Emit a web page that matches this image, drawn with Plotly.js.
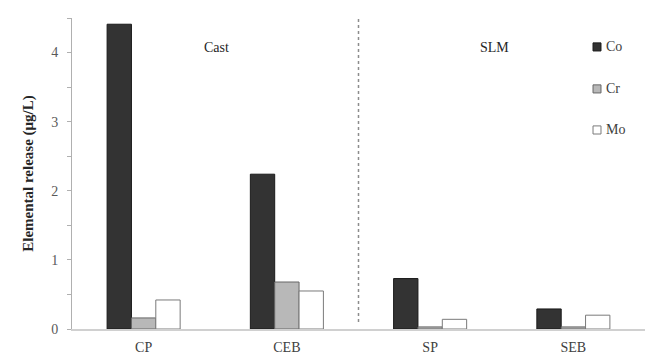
<!DOCTYPE html>
<html><head><meta charset="utf-8">
<script src="https://cdn.plot.ly/plotly-3.0.1.min.js"></script>
<style>html,body{margin:0;padding:0;background:#fff;}#chart{width:650px;height:356px;}</style>
</head><body><div id="chart"></div>
<script>
const categories = ["CP", "CEB", "SP", "SEB"];
const coValues = [4.41, 2.24, 0.73, 0.29];
const crValues = [0.16, 0.68, 0.03, 0.03];
const moValues = [0.42, 0.55, 0.14, 0.20];
const seriesNames = ["Co", "Cr", "Mo"];
const groupLabels = ["Cast", "SLM"];

const font = "Liberation Serif";
const fills = ["#333333", "#b8b8b8", "#ffffff"];
const outlines = ["#1a1a1a", "#666666", "#7a7a7a"];
const values = [coValues, crValues, moValues];
const data = seriesNames.map((name, i) => ({
  type: "bar", name: name, x: categories, y: values[i],
  marker: {color: fills[i], line: {color: outlines[i], width: 1}},
  hoverinfo: "skip", showlegend: false
}));

// custom legend (small squares + labels), placed in paper coords
const legendY = [0.907, 0.772, 0.640];
const legendShapes = seriesNames.map((n, i) => ({
  type: "rect", xref: "paper", yref: "paper",
  x0: 0.9093, x1: 0.9232, y0: legendY[i] - 0.013, y1: legendY[i] + 0.013,
  fillcolor: fills[i], line: {color: outlines[i], width: 1}
}));
const legendAnn = seriesNames.map((n, i) => ({
  text: n, xref: "paper", yref: "paper", x: 0.929, y: legendY[i],
  xanchor: "left", yanchor: "middle", showarrow: false,
  font: {family: font, size: 14, color: "#404040"}
}));

const layout = {
  width: 650, height: 356,
  margin: {l: 72, r: 5, t: 18, b: 27},
  paper_bgcolor: "#fff", plot_bgcolor: "#fff",
  font: {family: font, color: "#404040", size: 14},
  barmode: "group", bargap: 0.49, bargroupgap: 0,
  showlegend: false,
  xaxis: {type: "category", showline: true, linecolor: "#d0d0d0", linewidth: 1.5,
    ticks: "", showgrid: false, zeroline: false, ticklabelstandoff: 5,
    tickfont: {family: font, size: 14, color: "#404040"}},
  yaxis: {range: [0, 4.5], dtick: 1, showline: true, linecolor: "#b0b0b0", linewidth: 1,
    ticks: "outside", ticklen: 4, tickcolor: "#b0b0b0", showgrid: false, zeroline: false,
    minor: {dtick: 0.5, ticks: "outside", ticklen: 4, tickcolor: "#b0b0b0"},
    ticklabelstandoff: 6,
    tickfont: {family: font, size: 14, color: "#595959"},
    title: {text: "<b>Elemental release (μg/L)</b>", font: {family: font, size: 15, color: "#262626"}, standoff: 13}},
  shapes: [{type: "line", xref: "x", yref: "paper", x0: 1.5, x1: 1.5, y0: 0.0225, y1: 1.006,
    line: {color: "#8c8c8c", width: 1.5, dash: "dot"}}].concat(legendShapes),
  annotations: [
    {text: groupLabels[0], xref: "x", yref: "paper", x: 0.51, y: 0.937, showarrow: false,
      font: {family: font, size: 14, color: "#262626"}},
    {text: groupLabels[1], xref: "x", yref: "paper", x: 2.45, y: 0.937, showarrow: false,
      font: {family: font, size: 14, color: "#262626"}}
  ].concat(legendAnn)
};
Plotly.newPlot("chart", data, layout, {displayModeBar: false, staticPlot: true});
</script></body></html>
